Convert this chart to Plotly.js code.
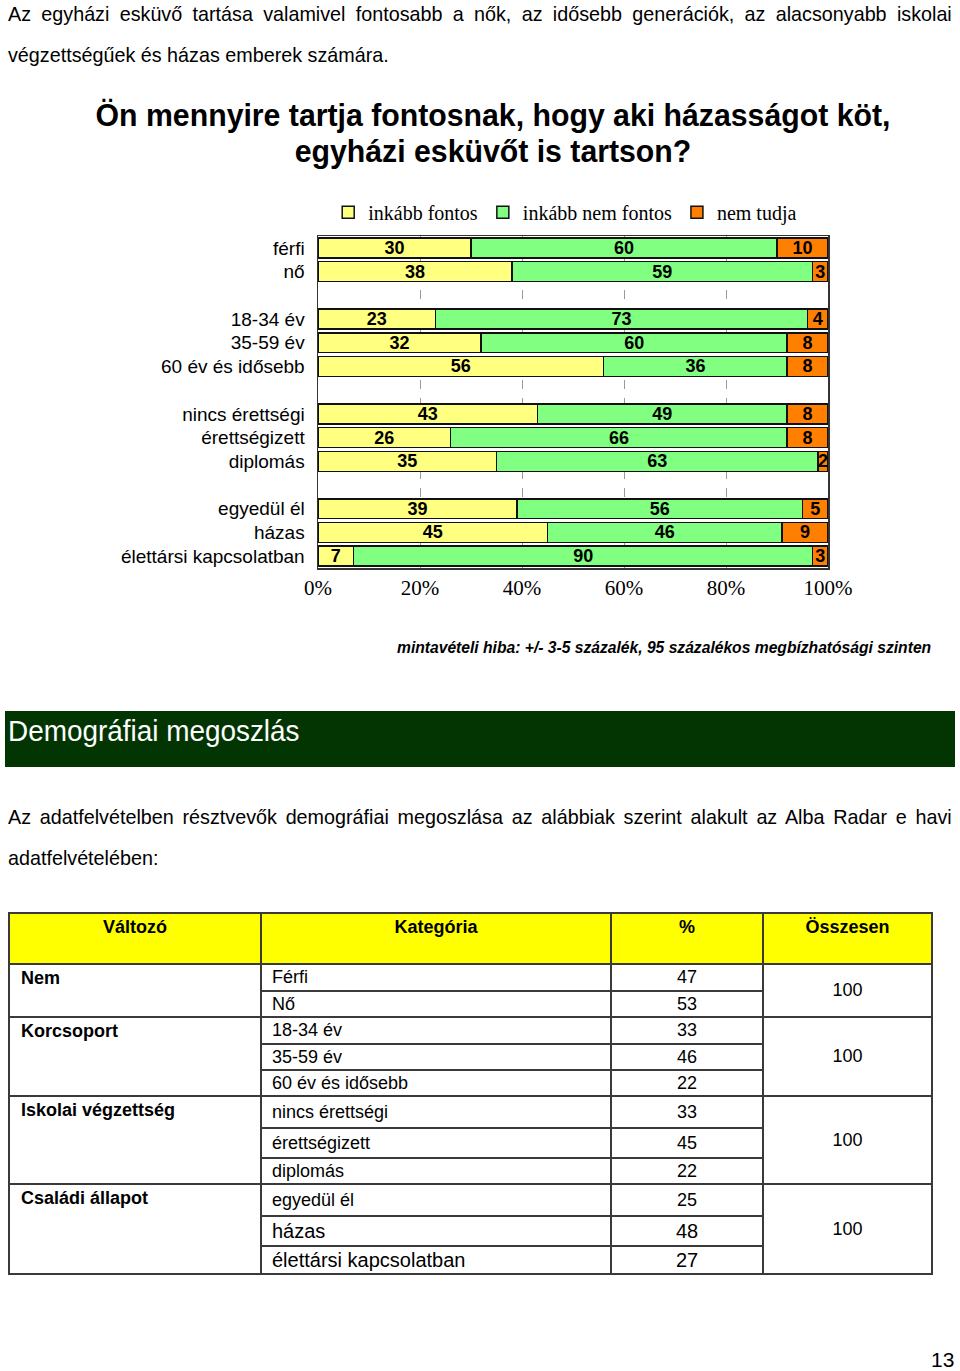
<!DOCTYPE html>
<html><head><meta charset="utf-8">
<script src="https://cdn.plot.ly/plotly-3.0.1.min.js"></script>
<style>
html,body{margin:0;padding:0;background:#fff;}
body{width:960px;height:1371px;position:relative;overflow:hidden;font-family:"Liberation Sans",Arial,sans-serif;color:#000;}
.abs{position:absolute;}
.jline{text-align:justify;text-align-last:justify;white-space:nowrap;}
.sx{transform-origin:0 0;}
table.demo{position:absolute;left:8px;top:912px;border-collapse:collapse;table-layout:fixed;}
table.demo td,table.demo th{border:2px solid #3a3a3a;padding:0;font-size:18px;}
table.demo th{background:#ffff00;font-weight:bold;vertical-align:top;padding-top:3px;text-align:center;}
</style></head>
<body>
<div class="abs jline sx" style="left:8px;top:1px;width:1004px;font-size:21px;line-height:26px;transform:scaleX(0.94);">Az egyházi esküvő tartása valamivel fontosabb a nők, az idősebb generációk, az alacsonyabb iskolai</div>
<div class="abs sx" style="left:8px;top:42px;font-size:21px;line-height:26px;white-space:nowrap;transform:scaleX(0.94);">végzettségűek és házas emberek számára.</div>
<div class="abs" style="left:0;top:97px;width:986px;text-align:center;font-size:32px;font-weight:bold;line-height:36px;transform:scaleX(0.945);transform-origin:493px 0;">Ön mennyire tartja fontosnak, hogy aki házasságot köt,<br>egyházi esküvőt is tartson?</div>
<div id="chart" class="abs" style="left:0;top:170px;width:960px;height:440px;"></div>
<div class="abs" style="left:397px;top:637px;font-size:17px;font-weight:bold;font-style:italic;line-height:22px;white-space:nowrap;transform:scaleX(0.92);transform-origin:0 0;">mintavételi hiba: +/- 3-5 százalék, 95 százalékos megbízhatósági szinten</div>
<div class="abs" style="left:5px;top:711px;width:950px;height:56px;background:#033503;"></div>
<div class="abs sx" style="left:8px;top:713px;font-size:30px;line-height:36px;color:#fff;white-space:nowrap;transform:scaleX(0.93);">Demográfiai megoszlás</div>
<div class="abs jline sx" style="left:8px;top:804px;width:1004px;font-size:21px;line-height:26px;transform:scaleX(0.94);">Az adatfelvételben résztvevők demográfiai megoszlása az alábbiak szerint alakult az Alba Radar e havi</div>
<div class="abs sx" style="left:8px;top:845px;font-size:21px;line-height:26px;white-space:nowrap;transform:scaleX(0.94);">adatfelvételében:</div>
<table class="demo" id="demo"></table>
<div class="abs" style="left:931px;top:1348px;font-size:21px;line-height:24px;">13</div>
<script>
// Chart data
var categories = ['férfi','nő',' ','18-34 év','35-59 év','60 év és idősebb','  ','nincs érettségi','érettségizett','diplomás','   ','egyedül él','házas','élettársi kapcsolatban'];
var seriesNames = ['inkább fontos','inkább nem fontos','nem tudja'];
var fontos    = [30,38,null,23,32,56,null,43,26,35,null,39,45,7];
var nemFontos = [60,59,null,73,60,36,null,49,66,63,null,56,46,90];
var nemTudja  = [10,3,null,4,8,8,null,8,8,2,null,5,9,3];
var xTicks = [0,20,40,60,80,100];

// Table data
var tableHeaders = ['Változó','Kategória','%','Összesen'];
var groupNames = ['Nem','Korcsoport','Iskolai végzettség','Családi állapot'];
var groupSizes = [2,3,3,3];
var groupTotals = [100,100,100,100];
var tableCategories = ['Férfi','Nő','18-34 év','35-59 év','60 év és idősebb','nincs érettségi','érettségizett','diplomás','egyedül él','házas','élettársi kapcsolatban'];
var tablePercents = [47,53,33,46,22,33,45,22,25,48,27];

var colors = ['#ffff80','#80ff80','#ff7f00'];
var vals = [fontos,nemFontos,nemTudja];
var traces = vals.map(function(v,i){
  return {
    type:'bar', orientation:'h', name:seriesNames[i], y:categories, x:v,
    marker:{color:colors[i], line:{color:'#111', width:1.5}},
    texttemplate:'%{x:.0f}', textposition:'inside', insidetextanchor:'middle',
    constraintext:'none', textangle:0,
    insidetextfont:{family:'Liberation Sans, Arial, sans-serif', size:18, weight:700, color:'#000'},
    textfont:{family:'Liberation Sans, Arial, sans-serif', size:18, weight:700, color:'#000'},
    hoverinfo:'x+y+name'
  };
});
var layout = {
  width:960, height:440, barmode:'stack', bargap:0.16,
  margin:{l:318, r:132, t:66, b:42},
  paper_bgcolor:'rgba(0,0,0,0)', plot_bgcolor:'#fff',
  showlegend:true,
  legend:{orientation:'h', x:0.02, xanchor:'left', y:1.13, yanchor:'top', traceorder:'normal',
    font:{family:'Liberation Serif, Times New Roman, serif', size:20, color:'#000'}, bgcolor:'rgba(0,0,0,0)', itemwidth:30},
  xaxis:{range:[0,100], tickvals:xTicks, ticktext:xTicks.map(function(t){return t+'%';}),
    showgrid:true, gridcolor:'#9a9a9a', griddash:'dash', gridwidth:1, zeroline:false,
    showline:true, mirror:true, linecolor:'#333', linewidth:1.5, ticks:'',
    tickfont:{family:'Liberation Serif, Times New Roman, serif', size:21, color:'#000'}, fixedrange:true},
  yaxis:{type:'category', autorange:'reversed', showgrid:false, zeroline:false,
    showline:true, mirror:true, linecolor:'#333', linewidth:1.5, ticks:'', ticklabelstandoff:8,
    tickfont:{family:'Liberation Sans, Arial, sans-serif', size:19, color:'#000'}, fixedrange:true}
};
Plotly.newPlot('chart', traces, layout, {displayModeBar:false, staticPlot:true});

// Build table
var rowHeights = [27,26,27,26,26,32,30,26,32,30,28];
var colWidths = [252,350,152,169];
var t = document.getElementById('demo');
var cg = '<colgroup>' + colWidths.map(function(w){return '<col style="width:'+w+'px">';}).join('') + '</colgroup>';
var html = cg + '<tr style="height:51px">' + tableHeaders.map(function(h){return '<th>'+h+'</th>';}).join('') + '</tr>';
var idx = 0;
groupNames.forEach(function(g,gi){
  for(var k=0;k<groupSizes[gi];k++){
    var big = idx>=9;
    html += '<tr style="height:'+rowHeights[idx]+'px">';
    if(k===0){
      html += '<td rowspan="'+groupSizes[gi]+'" style="vertical-align:top;padding-left:11px;padding-top:3px;font-weight:bold;">'+g+'</td>';
    }
    html += '<td style="padding-left:10px;vertical-align:middle;'+(big?'font-size:20px;':'')+'">'+tableCategories[idx]+'</td>';
    html += '<td style="text-align:center;vertical-align:middle;'+(big?'font-size:20px;':'')+'">'+tablePercents[idx]+'</td>';
    if(k===0){
      html += '<td rowspan="'+groupSizes[gi]+'" style="text-align:center;vertical-align:middle;">'+groupTotals[gi]+'</td>';
    }
    html += '</tr>';
    idx++;
  }
});
t.innerHTML = html;
</script>
</body></html>
